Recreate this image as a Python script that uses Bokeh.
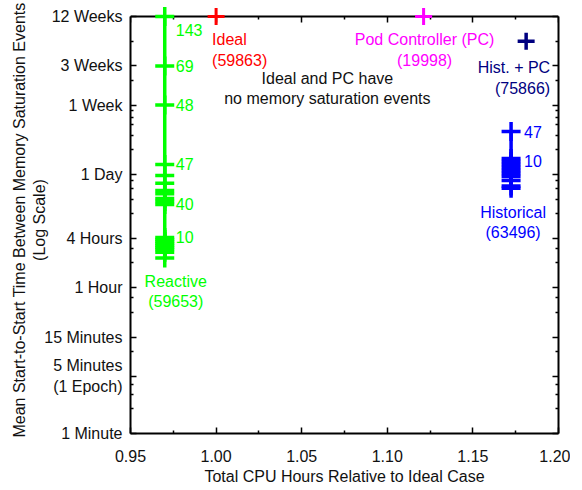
from bokeh.plotting import figure
from bokeh.models import (FixedTicker, LinearAxis, LogAxis, NumeralTickFormatter, Range1d,
                          ColumnDataSource, CustomJSTickFormatter)
from bokeh.embed import file_html
from bokeh.resources import INLINE
from bokeh.core.properties import value

FONT = "Liberation Sans"
FS = "16px"

# ---------------- data (y values in minutes) ----------------
x_ticks = [0.95, 1.00, 1.05, 1.10, 1.15, 1.20]
x_minor_ticks = [0.975, 1.025, 1.075, 1.125, 1.175]
y_ticks = [1, 5, 15, 60, 240, 1440, 10080, 30240, 120960]
y_tick_labels = ["1 Minute", "5 Minutes\n(1 Epoch)", "15 Minutes", "1 Hour", "4 Hours",
                 "1 Day", "1 Week", "3 Weeks", "12 Weeks"]
y_minor_ticks = [2, 3, 4, 10, 30, 45, 120, 180, 480, 720, 960, 1200,
                 2880, 4320, 5760, 7200, 8640, 20160, 60480]

reactive_x = 0.970
reactive_y = [120960, 30240, 10080, 1900, 1400, 1120, 915, 835, 730, 672, 618,
              245, 231, 219, 207, 196, 185, 175, 162, 138]
reactive_lbl = ["143", "69", "48", "47", "40", "10"]
reactive_lbl_y = [120960, 30240, 10080, 1900, 672, 245]

historical_x = 1.1723
historical_y = [4795, 2247, 2066, 1899, 1746, 1605, 1475, 1356, 1212, 1040, 975]
historical_lbl = ["47", "10"]
historical_lbl_y = [4795, 2125]

ideal_x, ideal_y = 1.00, 120960
pc_x, pc_y = 1.1212, 120960
histpc_x, histpc_y = 1.1811, 60480

Y_MIN, Y_MAX = 1, 120960          # axis box: 1 minute .. 12 weeks

GREEN = "#00ff00"
RED = "#ff0000"
MAGENTA = "#ff00ff"
NAVY = "#000080"
BLUE = "#0000ff"
TXT = "#111111"

# The frame is made 10px taller than the axis box so that markers sitting on the
# 12-week edge are drawn whole; the box itself is drawn by the four bounded axes.
HEAD = 1.324
p = figure(frame_width=428, frame_height=427, output_backend="svg", toolbar_location=None,
           x_range=Range1d(0.95, 1.20), y_range=Range1d(Y_MIN, Y_MAX * HEAD), y_axis_type="log",
           min_border_left=130, min_border_right=12, min_border_top=6, min_border_bottom=54)
p.grid.visible = False
p.outline_line_color = None
p.background_fill_color = "white"
p.border_fill_color = "white"

xt = FixedTicker(ticks=x_ticks, minor_ticks=x_minor_ticks)
yt = FixedTicker(ticks=y_ticks, minor_ticks=y_minor_ticks)
blank = CustomJSTickFormatter(code="return ''")

def style_axis(ax):
    ax.axis_line_color = "black"
    ax.axis_line_width = 2
    ax.major_tick_in = 6
    ax.major_tick_out = 0
    ax.minor_tick_in = 3
    ax.minor_tick_out = 0
    ax.major_tick_line_width = 1.5
    ax.minor_tick_line_width = 1.5
    ax.major_tick_line_color = "black"
    ax.minor_tick_line_color = "black"
    ax.major_label_text_font = FONT
    ax.major_label_text_font_size = FS
    ax.major_label_text_color = TXT
    ax.axis_label_text_font = FONT
    ax.axis_label_text_font_size = FS
    ax.axis_label_text_font_style = "normal"
    ax.axis_label_text_color = TXT

xa = p.xaxis[0]
xa.ticker = xt
xa.formatter = NumeralTickFormatter(format="0.00")
style_axis(xa)
xa.major_label_standoff = 16
xa.axis_label = "Total CPU Hours Relative to Ideal Case"
xa.axis_label_standoff = 3

ya = p.yaxis[0]
ya.ticker = yt
ya.bounds = (Y_MIN, Y_MAX)
ya.major_label_overrides = {v: t for v, t in zip(y_ticks, y_tick_labels)}
style_axis(ya)
ya.major_label_standoff = 8
ya.axis_label = "Mean Start-to-Start Time Between Memory Saturation Events\n(Log Scale)"
ya.axis_label_standoff = -7

top = LinearAxis(ticker=xt, formatter=blank, fixed_location=Y_MAX)
style_axis(top)
top.major_label_text_font_size = "1px"
top.major_label_standoff = 0
p.add_layout(top, "above")

right = LogAxis(ticker=yt, formatter=blank, bounds=(Y_MIN, Y_MAX))
style_axis(right)
right.major_label_text_font_size = "1px"
right.major_label_standoff = 0
p.add_layout(right, "right")

# ---------------- series ----------------
MS = 19
LW = 3.5

p.line([reactive_x] * len(reactive_y), reactive_y, line_color=GREEN, line_width=3.5, level="overlay")
p.scatter([reactive_x] * len(reactive_y), reactive_y, marker="cross", size=MS,
          line_color=GREEN, line_width=LW, level="overlay")

p.line([historical_x] * len(historical_y), historical_y, line_color=BLUE, line_width=3.5, level="overlay")
p.scatter([historical_x] * len(historical_y), historical_y, marker="cross", size=MS,
          line_color=BLUE, line_width=LW, level="overlay")

p.scatter([ideal_x], [ideal_y], marker="cross", size=17, line_color=RED, line_width=3, level="overlay")
p.scatter([pc_x], [pc_y], marker="cross", size=17, line_color=MAGENTA, line_width=3, level="overlay")
p.scatter([histpc_x], [histpc_y], marker="cross", size=17, line_color=NAVY, line_width=3.5, level="overlay")

# ---------------- labels ----------------
TF = value(FONT)

rsrc = ColumnDataSource(dict(x=[reactive_x] * len(reactive_lbl), y=reactive_lbl_y, t=reactive_lbl,
                             yo=[13, 0, 0, 0, 2, 0]))
p.text(x="x", y="y", text="t", source=rsrc, x_offset=11, y_offset="yo", text_font=TF,
       text_font_size=FS, text_color=GREEN, text_align="left", text_baseline="middle")

hsrc = ColumnDataSource(dict(x=[historical_x] * len(historical_lbl), y=historical_lbl_y, t=historical_lbl))
p.text(x="x", y="y", text="t", source=hsrc, x_offset=13, y_offset=0, text_font=TF,
       text_font_size=FS, text_color=BLUE, text_align="left", text_baseline="middle")

def two_lines(x, y, lines, color, align, xo, yo1, yo2):
    src = ColumnDataSource(dict(x=[x, x], y=[y, y], t=lines, yo=[yo1, yo2]))
    p.text(x="x", y="y", text="t", source=src, x_offset=xo, y_offset="yo", text_font=TF,
           text_font_size=FS, text_color=color, text_align=align, text_baseline="middle")

two_lines(ideal_x, ideal_y, ["Ideal", "(59863)"], RED, "left", -4, 23, 44)
two_lines(pc_x, pc_y, ["Pod Controller (PC)", "(19998)"], MAGENTA, "center", 1, 23, 44)
two_lines(histpc_x, histpc_y, ["Hist. + PC", "(75866)"], NAVY, "right", 24, 26, 47)
two_lines(historical_x, min(historical_y), ["Historical", "(63496)"], BLUE, "center", 2, 24, 44)
two_lines(reactive_x, min(reactive_y), ["Reactive", "(59653)"], GREEN, "center", 11, 24, 44)
two_lines(1.065, 21040, ["Ideal and PC have", "no memory saturation events"], TXT, "center", 0, 0, 20)

open("out.html", "w").write(file_html(p, INLINE))
